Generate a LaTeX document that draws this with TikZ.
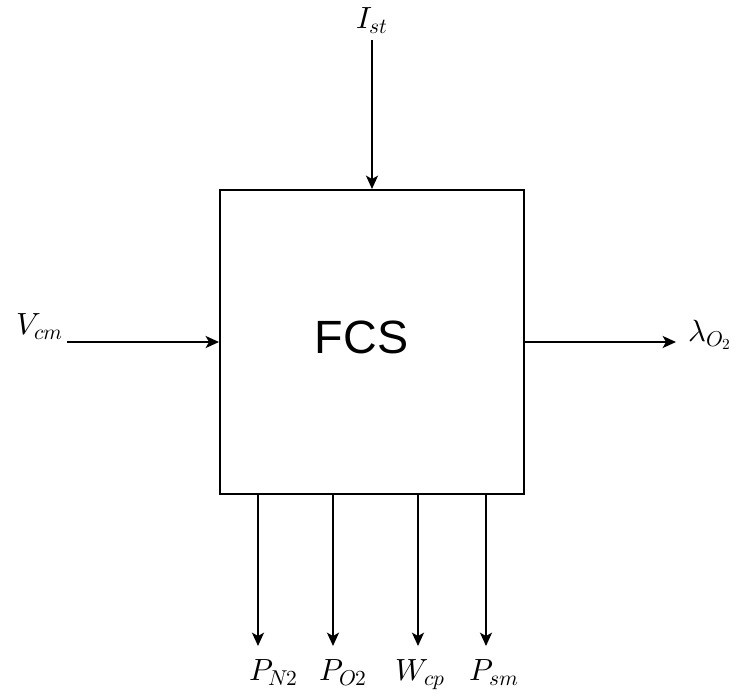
\documentclass[tikz,border=0pt]{standalone}
\usepackage{fontspec}
\setsansfont{Liberation Sans}
\newfontfamily\mathlm{Latin Modern Math}
\usetikzlibrary{arrows.meta}
\newcommand{\subtxt}[1]{\raisebox{-4pt}{\fontsize{16.1}{18}\selectfont #1}}
\newcommand{\subsubtxt}[1]{\raisebox{-2.5pt}{\fontsize{11.5}{13}\selectfont #1}}
\tikzset{
 block/.style={draw,line width=1.5pt,minimum width=228pt,minimum height=228pt,inner sep=0pt},
 title/.style={inner sep=0pt,font=\sffamily\fontsize{35}{42}\selectfont},
 arrow/.style={-{Stealth[length=10pt,width=9pt,inset=2.5pt]},line width=1.5pt},
 signal/.style={inner sep=0pt,font=\mathlm\fontsize{23}{27}\selectfont}
}

\begin{document}
\begin{tikzpicture}[x=0.75pt,y=-0.75pt]
\useasboundingbox (0,0) rectangle (739,696);
\node[block] (fcs) at (372,342) {};
\node[title] (fcstext) at (361.5,337) {FCS};
% inputs
\node[signal,anchor=base] (ist) at (372,28) {𝐼\subtxt{𝑠𝑡}};
\node[signal,anchor=base east] (vcm) at (63,334) {𝑉\subtxt{𝑐𝑚}};
\draw[arrow] (ist.south |- 0,40) -- (fcs.north);
\draw[arrow] ([xshift=3pt]vcm.east |- fcs.west) -- (fcs.west);
% outputs
\node[signal,anchor=base west] (lam) at (688,341) {𝜆\subtxt{𝑂\subsubtxt{2}}};
\coordinate (lamend) at (676,342);
\draw[arrow] (fcs.east) -- (lamend);
\node[signal,anchor=base] (pn2) at (273,680) {𝑃\subtxt{𝑁2}};
\node[signal,anchor=base] (po2) at (343,680) {𝑃\subtxt{𝑂2}};
\node[signal,anchor=base] (wcp) at (420,680) {𝑊\subtxt{𝑐𝑝}};
\node[signal,anchor=base] (psm) at (494,680) {𝑃\subtxt{𝑠𝑚}};
\coordinate (pn2end) at (258,646);
\coordinate (po2end) at (333,646);
\coordinate (wcpend) at (418,646);
\coordinate (psmend) at (486,646);
\draw[arrow] (pn2end |- fcs.south) -- (pn2end);
\draw[arrow] (po2end |- fcs.south) -- (po2end);
\draw[arrow] (wcpend |- fcs.south) -- (wcpend);
\draw[arrow] (psmend |- fcs.south) -- (psmend);
\end{tikzpicture}
\end{document}
